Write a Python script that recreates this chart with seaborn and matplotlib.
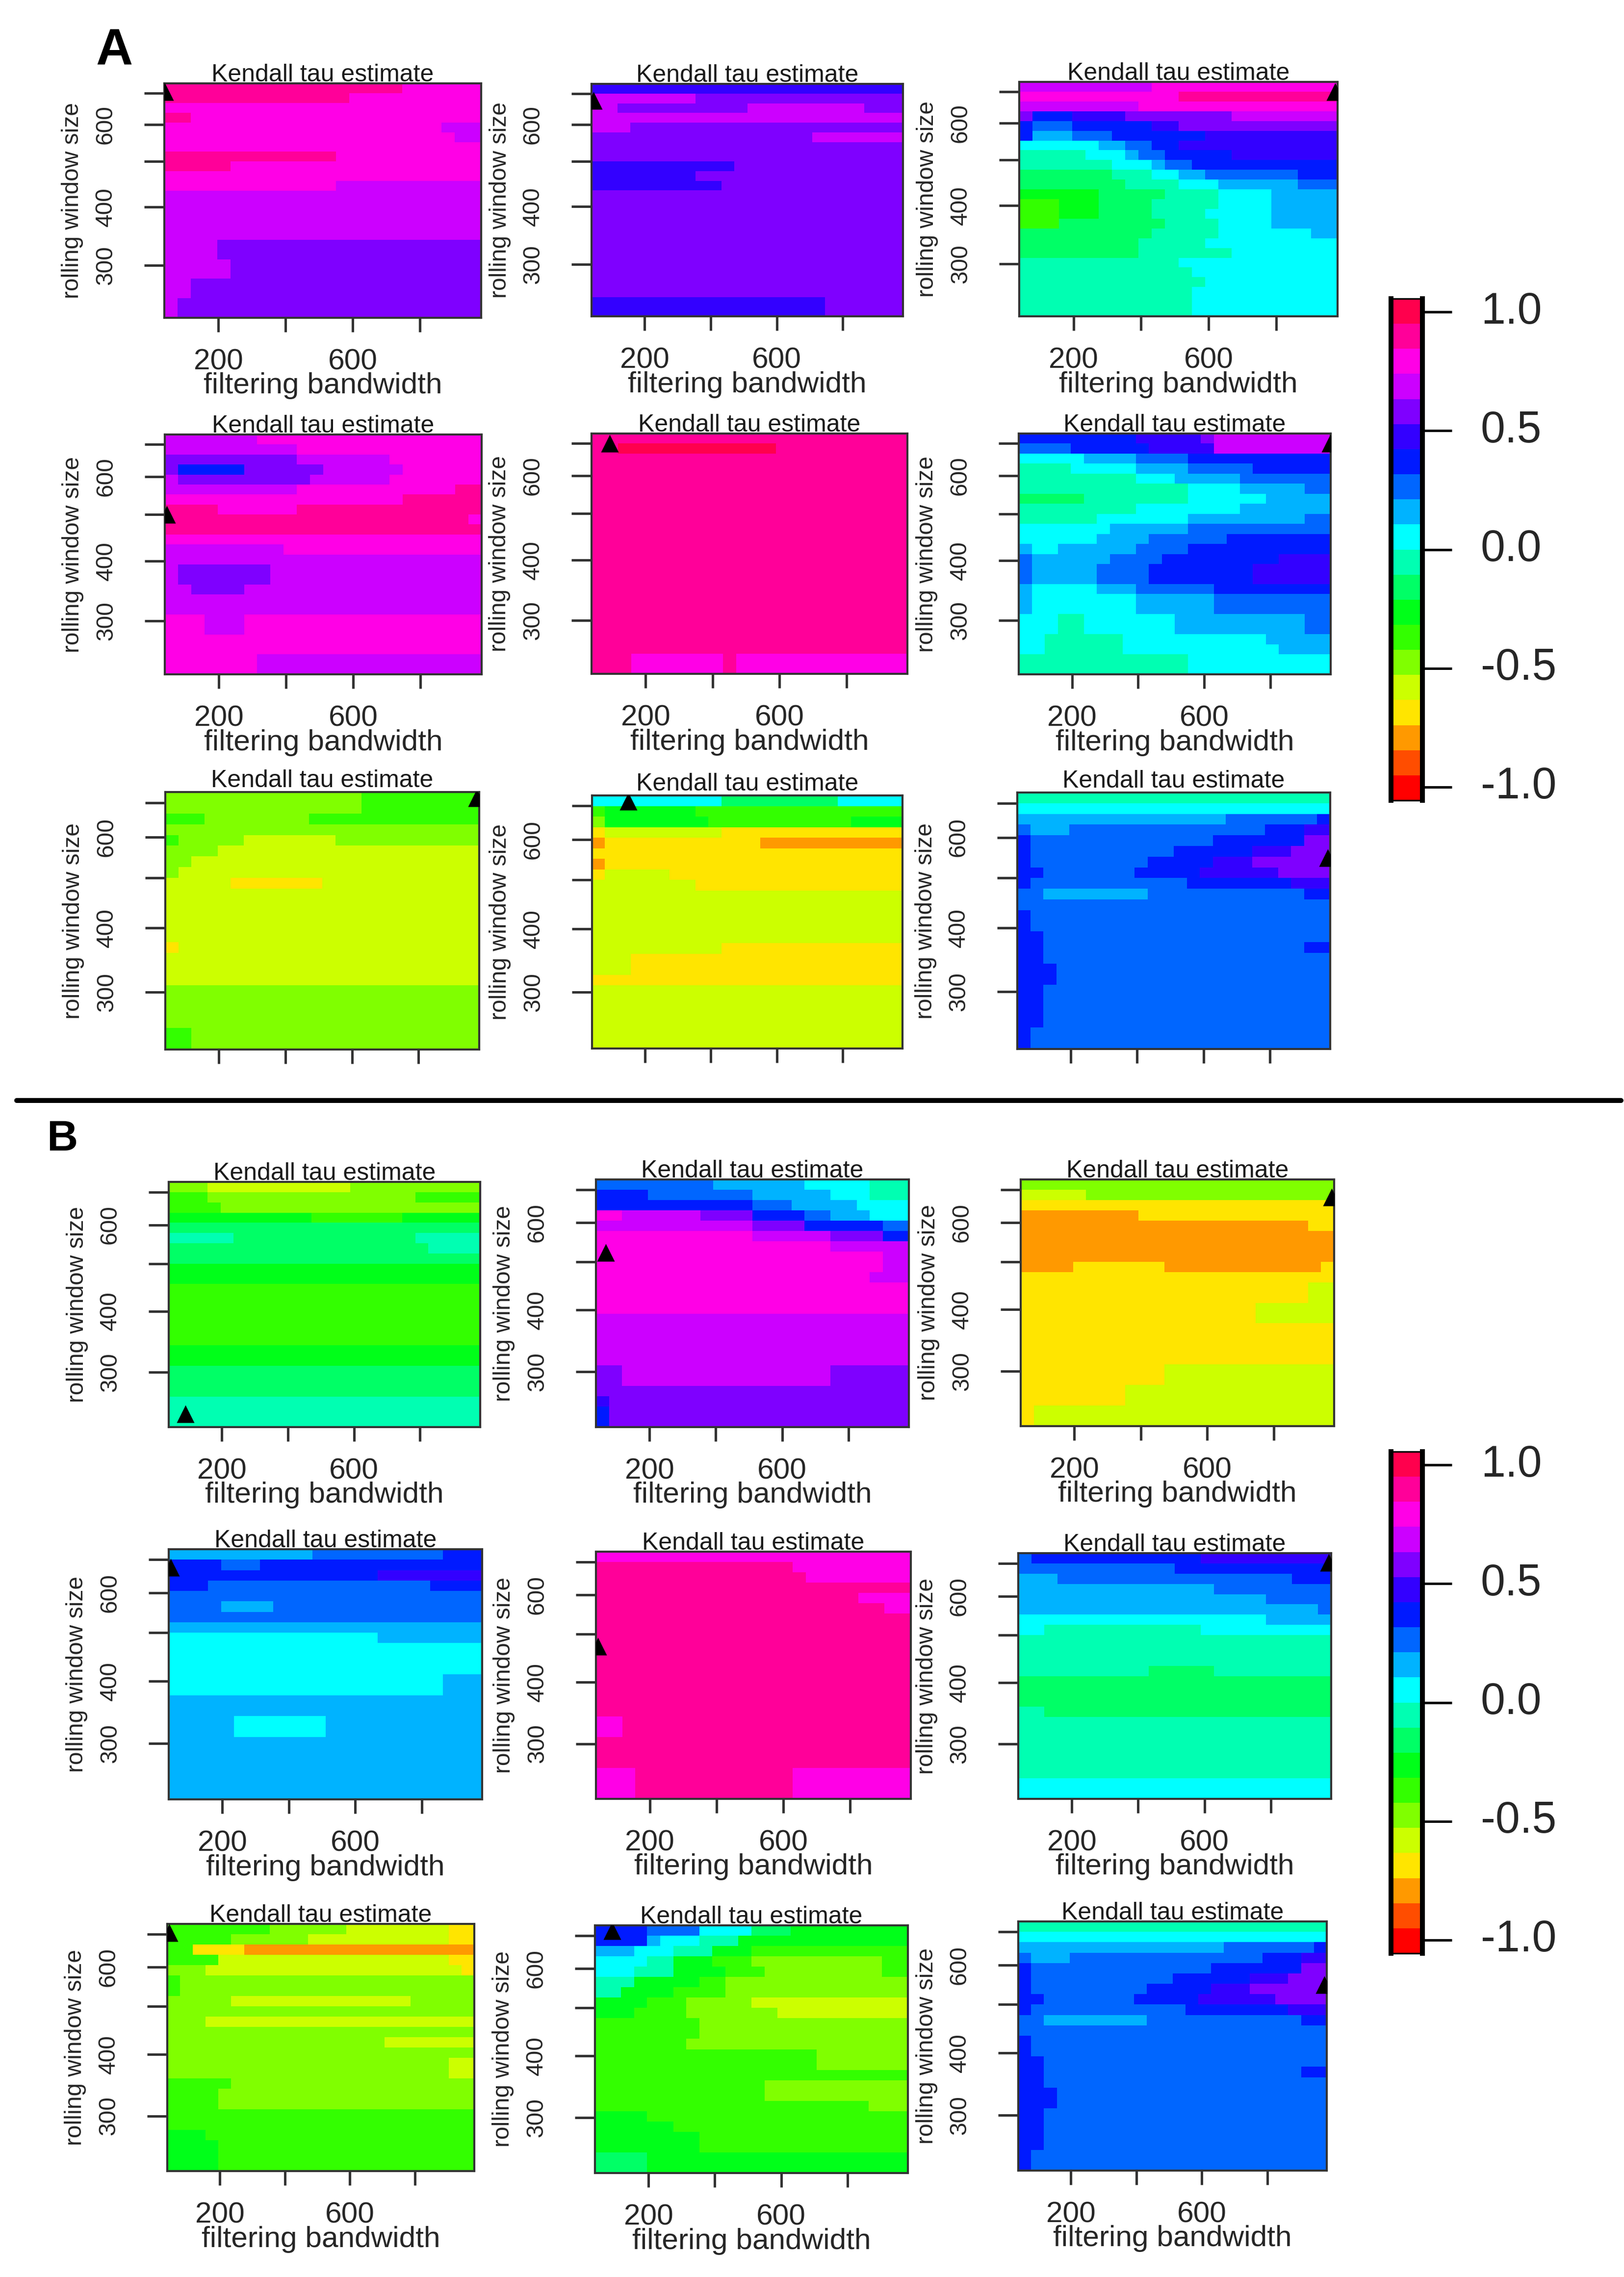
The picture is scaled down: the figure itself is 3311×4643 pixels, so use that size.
import numpy as np
import pandas as pd
import matplotlib
matplotlib.use('Agg')
import matplotlib.pyplot as plt
from matplotlib.colors import ListedColormap
from matplotlib.lines import Line2D
import seaborn as sns

W, H = 3311, 4643
N_CELLS = 24

# colour levels, red (-1) up to pink-red (+1)
LEVEL_CODES = 'abcdefghijklmnopqrst'
TAU_LEVELS = [-1.003, -0.898, -0.792, -0.686, -0.581, -0.475, -0.370, -0.264, -0.158, -0.053,
              0.053, 0.158, 0.264, 0.370, 0.475, 0.581, 0.686, 0.792, 0.898, 1.003]
RAINBOW = ['#FF0000', '#FF4D00', '#FF9900', '#FFE500', '#CCFF00', '#80FF00', '#33FF00', '#00FF19',
           '#00FF66', '#00FFB2', '#00FFFF', '#00B3FF', '#0066FF', '#001AFF', '#3300FF', '#7F00FF',
           '#CC00FF', '#FF00E6', '#FF0099', '#FF004D']

# rows run top to bottom, "t13 s" = 13 cells of t, the rest s
A1 = ['s18 r', 's14 r', 'r', 's2 r', 'r21 q', 'r22 q', 'r', 's13 r', 's5 r', 'r', 'r13 q', 'q',
      'q', 'q', 'q', 'q', 'q4 p', 'q4 p', 'q5 p', 'q5 p', 'q2 p', 'q2 p', 'q1 p', 'q1 p']
A2 = ['o', 'q8 p', 'q2 p10 q9 p', 'q', 'q3 p', 'p17 q', 'p', 'p', 'o11 p', 'o8 p', 'o10 p', 'p',
      'p', 'p', 'p', 'p', 'p', 'p', 'p', 'p', 'p', 'p', 'o18 p', 'o18 p']
A3 = ['q10 r', 'r12 s', 'q9 r', 'p1 n3 o4 p8 q', 'n1 m3 n6 o2 p', 'n1 l3 m3 n7 o', 'k6 l2 m2 n2 o',
      'j5 k3 l1 m2 n5 o', 'j7 k3 l1 m2 n', 'i7 j3 k2 l2 m7 n', 'i8 j4 k3 l6 m', 'h6 i5 j4 k4 l',
      'g3 h3 i4 j5 k4 l', 'g3 h3 i4 j4 k5 l', 'g3 i8 j4 k4 l', 'i10 j5 k7 l', 'i9 j5 k', 'i9 j7 k',
      'j12 k', 'j13 k', 'j14 k', 'j13 k', 'j13 k', 'j13 k']
A4 = ['q7 r', 'q10 r', 'p10 q7 r', 'p1 n5 p6 q6 r', 'q1 p10 q6 r', 'q10 r12 s', 'r18 s', 's4 r6 s',
      's23 r', 's', 'r', 'q9 r', 'q', 'q1 p7 q', 'q1 p7 q', 'q2 p4 q', 'q', 'q', 'r3 q3 r', 'r3 q3 r',
      'r', 'r', 'r7 q', 'r7 q']
A5 = ['s', 's2 t12 s', 's', 's', 's', 's', 's', 's', 's', 's', 's', 's', 's', 's', 's', 's', 's',
      's', 's', 's', 's', 's', 's3 r7 s1 r', 's3 r7 s1 r']
A6 = ['n9 o5 p1 q', 'm4 n6 o5 q', 'k5 l4 m4 n', 'j4 k5 l4 m5 n', 'j9 k3 l5 m', 'j13 k4 l5 m',
      'i5 j8 k6 l', 'j9 k8 l', 'j6 k7 l9 m', 'k7 l6 m', 'k6 l4 m6 n', 'l1 k2 l6 m4 n', 'm1 l6 m4 n9 o',
      'm1 l5 m4 n8 o', 'm1 l5 m4 n8 o', 'l1 k5 l3 m6 n', 'l1 k8 l6 m', 'l1 k8 l6 m', 'k3 j2 k7 l10 m',
      'k3 j2 k7 l10 m', 'k2 j6 k11 l', 'k2 j6 k12 l', 'j13 k', 'j13 k']
A7 = ['f15 g', 'f15 g', 'g3 f8 g', 'f', 'g1 f5 e7 f', 'f4 e', 'f2 e', 'f1 e', 'e5 d7 e', 'e', 'e', 'e',
      'e', 'e', 'd1 e', 'e', 'e', 'e', 'f', 'f', 'f', 'f', 'g2 f', 'g2 f']
A8 = ['k10 i9 k', 'g1 h7 g', 'f1 h8 g11 h', 'd1 e9 d', 'c1 d12 c', 'd', 'c1 d', 'd1 e5 d', 'e8 d', 'e',
      'e', 'e', 'e', 'e', 'e10 d', 'e3 d', 'e3 d', 'd', 'e', 'e', 'e', 'e', 'e', 'e']
A9 = ['j', 'k', 'l16 m7 n', 'm1 l3 m15 n3 o', 'n1 m14 n7 p', 'n1 m11 n6 o3 p', 'n1 m9 n5 o3 p',
      'n2 m7 n5 o6 p', 'n1 m12 n8 o', 'm2 l8 m12 n', 'm', 'n1 m', 'n1 m', 'n2 m', 'n2 m20 n', 'n2 m',
      'n3 m', 'n3 m', 'n2 m', 'n2 m', 'n2 m', 'n2 m', 'n1 m', 'n1 m']
B1 = ['f3 e11 f', 'g3 f16 g', 'g4 f', 'h11 g7 h', 'i', 'j5 i14 j', 'i20 j', 'i', 'h', 'h', 'g', 'g',
      'g', 'g', 'g', 'g', 'h', 'h', 'i', 'i', 'i', 'j', 'j', 'j']
B2 = ['m9 l7 k5 j', 'n4 m8 l6 k3 j', 'n12 m3 l5 k', 'r2 q6 p4 n4 m2 l3 k', 'q12 p4 n6 m', 'r12 q6 p4 n',
      'r18 q', 'r22 q', 'r22 q', 'r21 q', 'r', 'r', 'r', 'q', 'q', 'q', 'q', 'q', 'p2 q16 p', 'p2 q16 p',
      'p', 'o1 p', 'n1 p', 'n1 p']
B3 = ['f', 'e5 f', 'd', 'c9 d', 'c22 d', 'c', 'c', 'c', 'c4 d7 c12 d', 'd', 'd22 e', 'd22 e', 'd18 e',
      'd18 e', 'd', 'd', 'd', 'd', 'd11 e', 'd11 e', 'd8 e', 'd8 e', 'd1 e', 'd1 e']
B4 = ['l11 m10 n', 'n4 m3 n', 'n16 o', 'n3 m17 n', 'm', 'm4 l4 m', 'm', 'l', 'k16 l', 'k', 'k', 'k',
      'k21 l', 'k21 l', 'l', 'l', 'l5 k7 l', 'l5 k7 l', 'l', 'l', 'l', 'l', 'l', 'l']
B5 = ['r', 's15 r', 's16 r', 's', 's20 r', 's22 r', 's', 's', 's', 's', 's', 's', 's', 's', 's', 's',
      'r2 s', 'r2 s', 's', 's', 's', 'r3 s12 r', 'r3 s12 r', 'r3 s12 r']
B6 = ['m1 n13 o', 'm12 n', 'l3 m18 n', 'l15 m', 'l19 m', 'l23 m', 'k19 l', 'k2 j12 k', 'j', 'j', 'j',
      'j10 i5 j', 'i', 'i', 'i', 'j2 i', 'j', 'j', 'j', 'j', 'j', 'j', 'k', 'k']
B7 = ['g8 f6 e8 d', 'g5 f6 e11 d', 'g2 d4 c', 'g4 e18 d', 'f3 e20 d', 'g1 f', 'g1 f', 'f5 e14 f', 'f',
      'f3 e', 'f', 'f17 e', 'f', 'f22 e', 'f22 e', 'g5 f', 'g4 f', 'g4 f', 'g', 'g', 'h3 g', 'h4 g',
      'h4 g', 'h4 g']
B8 = ['n4 m4 k4 i3 h', 'n4 l1 k3 j3 h', 'l3 k3 j3 h3 g', 'k4 j2 h3 g3 f10 g', 'k3 j3 h4 g3 f9 g',
      'j3 h5 g2 f', 'j2 h4 g4 f', 'h4 g3 f5 e', 'h3 g4 f7 e', 'g8 f', 'g8 f', 'g7 f', 'g17 f', 'g17 f',
      'g', 'g13 f', 'g13 f', 'g21 f', 'h4 g', 'h6 g', 'h8 g', 'h8 g', 'i4 h', 'i4 h']
B9 = ['j', 'k', 'l16 m7 n', 'm1 l3 m15 n3 o', 'n1 m14 n7 p', 'n1 m11 n6 o3 p', 'n1 m9 n5 o3 p',
      'n2 m7 n5 o6 p', 'n1 m12 n8 o', 'm2 l8 m12 n', 'm', 'n1 m', 'n1 m', 'n2 m', 'n2 m20 n', 'n2 m',
      'n3 m', 'n3 m', 'n2 m', 'n2 m', 'n2 m', 'n2 m', 'n1 m', 'n1 m']

PANELS = [A1, A2, A3, A4, A5, A6, A7, A8, A9, B1, B2, B3, B4, B5, B6, B7, B8, B9]

# black triangles: position of the best cell, filtering bandwidth / window size
BEST_BW = [40, 45, 975, 45, 93, 980, 975, 149, 975, 90, 69, 975, 45, 45, 975, 45, 91, 975]
BEST_WIN = [705, 675, 700, 500, 700, 700, 715, 715, 548, 247, 522, 676, 675, 472, 703, 704, 715, 548]

BW_RANGE = (39, 982)
WIN_RANGE = (232, 734)
BW_TICKS = [200, 400, 600, 800]
BW_LABELS = ['200', '', '600', '']
WIN_TICKS = [300, 400, 500, 600, 700]
WIN_LABELS = ['300', '400', '', '600', '']
CBAR_TICKS = [1.0, 0.5, 0.0, -0.5, -1.0]
CBAR_LABELS = ['1.0', '0.5', '0.0', '-0.5', '-1.0']
CBAR_RANGE = 1.056

# left, top, right, bottom in pixels of the picture
BOXES = [(335, 170, 981, 648), (1206, 171, 1841, 645), (2078, 167, 2727, 645),
         (336, 886, 982, 1375), (1206, 884, 1850, 1374), (2077, 884, 2713, 1375),
         (337, 1615, 977, 2140), (1207, 1622, 1840, 2138), (2074, 1616, 2712, 2139),
         (344, 2410, 979, 2910), (1215, 2405, 1853, 2910), (2081, 2405, 2720, 2908),
         (344, 3159, 983, 3669), (1215, 3164, 1857, 3668), (2076, 3167, 2714, 3668),
         (341, 3923, 967, 4427), (1213, 3926, 1851, 4431), (2076, 3918, 2705, 4426)]
NO_BW_TEXT = {6, 7, 8}
CBAR_BOXES = [(2836, 609, 2900, 1632), (2836, 2960, 2900, 3983)]

sns.set_theme(style='white')
plt.rcParams['font.family'] = ['Liberation Sans', 'DejaVu Sans']
plt.rcParams['text.color'] = '#1a1a1a'

cmap = ListedColormap(RAINBOW)
tau_by_code = dict(zip(LEVEL_CODES, TAU_LEVELS))


def decode(rows):
    values = []
    for row in rows:
        cells = []
        for run in row.split():
            n = int(run[1:]) if len(run) > 1 else N_CELLS - len(cells)
            cells += [tau_by_code[run[0]]] * n
        values.append(cells[:N_CELLS])
    return pd.DataFrame(values)


def bw_pos(bw):
    return (np.asarray(bw, float) - BW_RANGE[0]) / (BW_RANGE[1] - BW_RANGE[0]) * N_CELLS


def win_pos(win):
    # window sizes are on a log axis
    span = np.log(WIN_RANGE[1]) - np.log(WIN_RANGE[0])
    return (np.log(WIN_RANGE[1]) - np.log(np.asarray(win, float))) / span * N_CELLS


def box_axes(fig, box):
    left, top, right, bottom = box
    return fig.add_axes([left / W, 1 - bottom / H, (right - left) / W, (bottom - top) / H])


fig = plt.figure(figsize=(W / 300, H / 300), dpi=300)

for i, rows in enumerate(PANELS):
    box = BOXES[i]
    ax = box_axes(fig, box)
    sns.heatmap(decode(rows), ax=ax, cmap=cmap, vmin=-CBAR_RANGE, vmax=CBAR_RANGE, cbar=False,
                xticklabels=False, yticklabels=False, linewidths=0, rasterized=True)
    for spine in ax.spines.values():
        spine.set_visible(True)
        spine.set_color('#333333')
        spine.set_linewidth(1.0)

    ax.scatter(bw_pos([BEST_BW[i]]), win_pos([BEST_WIN[i]]), marker='^', s=75, color='black',
               linewidths=0, zorder=5)

    ax.set_xticks(bw_pos(BW_TICKS))
    ax.set_yticks(win_pos(WIN_TICKS))
    ax.set_yticklabels(WIN_LABELS, rotation=90, va='center', fontsize=11.5)
    ax.tick_params(axis='y', left=True, length=9.8, width=1.2, color='#333333', pad=13.5)
    ax.tick_params(axis='x', bottom=True, length=7, width=1.2, color='#333333', pad=8)

    w = box[2] - box[0]
    h = box[3] - box[1]
    if i in NO_BW_TEXT:
        ax.set_xticklabels([])
    else:
        ax.set_xticklabels(BW_LABELS, rotation=0, fontsize=14.5)
        ax.set_xlabel('filtering bandwidth', fontsize=14.5, va='center')
        ax.xaxis.set_label_coords(0.5, -139 / h)
    ax.set_ylabel('rolling window size', fontsize=11.5, va='center')
    ax.yaxis.set_label_coords(-187 / w, 0.5)
    ax.set_title('Kendall tau estimate', fontsize=12, pad=1)

for box in CBAR_BOXES:
    ax = box_axes(fig, box)
    sns.heatmap(pd.DataFrame({'tau': TAU_LEVELS[::-1]}), ax=ax, cmap=cmap, vmin=-CBAR_RANGE,
                vmax=CBAR_RANGE, cbar=False, xticklabels=False, yticklabels=False, rasterized=True)
    for name, spine in ax.spines.items():
        spine.set_visible(True)
        spine.set_color('black')
        spine.set_linewidth(2.4 if name in ('left', 'right') else 0.8)
    ax.yaxis.tick_right()
    ax.set_yticks((CBAR_RANGE - np.array(CBAR_TICKS)) / (2 * CBAR_RANGE) * len(TAU_LEVELS))
    ax.set_yticklabels(CBAR_LABELS, rotation=0, fontsize=21.5, ha='left', va='center')
    ax.tick_params(axis='y', right=True, left=False, length=14.5, width=1.2, color='black', pad=14)
    ax.set_ylabel('')

fig.text(233 / W, 1 - 105 / H, 'A', fontsize=25, fontweight='bold', ha='center', va='center', color='black')
fig.text(127 / W, 1 - 2323 / H, 'B', fontsize=21, fontweight='bold', ha='center', va='center', color='black')
fig.add_artist(Line2D([34 / W, 3305 / W], [1 - 2244 / H, 1 - 2244 / H], color='black', lw=2.4))

fig.savefig('out.png', dpi=300, facecolor='white')
